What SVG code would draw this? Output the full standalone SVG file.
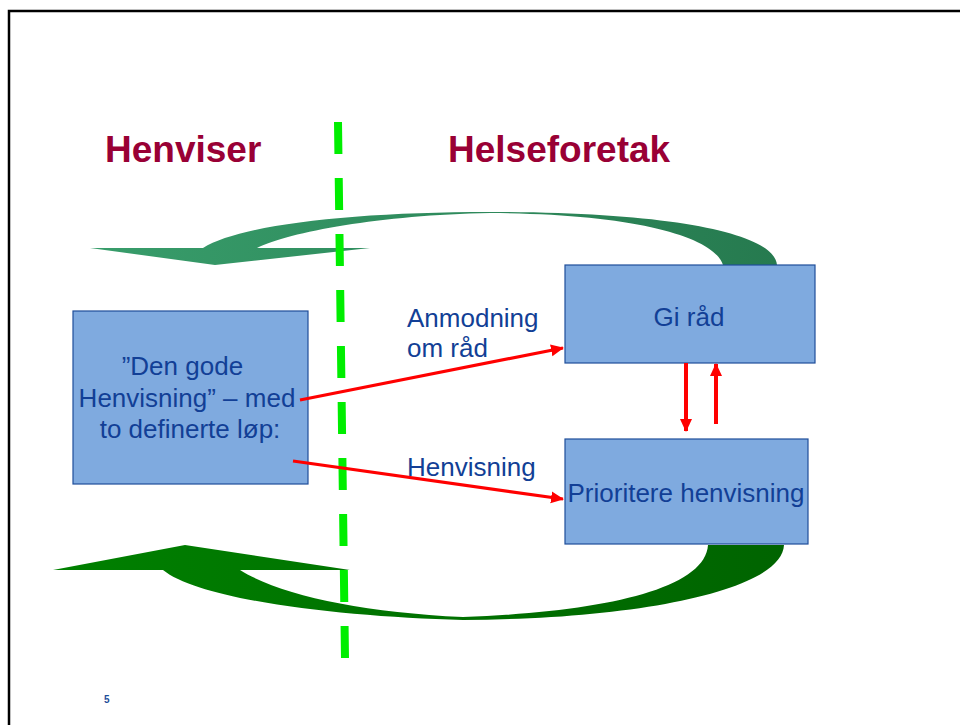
<svg xmlns="http://www.w3.org/2000/svg" width="960" height="725" viewBox="0 0 960 725">
<style>
.box{fill:#7faadf;stroke:#1f4e9a;stroke-width:1.2}
.lbl{font-family:"Liberation Sans",Arial,sans-serif;font-size:26px;fill:#123f96}
.head{font-family:"Liberation Sans",Arial,sans-serif;font-size:37px;font-weight:bold;fill:#990035}
.red{stroke:#ff0000;stroke-width:3.2;fill:none}
.redv{stroke:#ff0000;stroke-width:4;fill:none}
</style>
<defs>
<linearGradient id="gTop" x1="90" y1="0" x2="777" y2="0" gradientUnits="userSpaceOnUse">
<stop offset="0" stop-color="#389d6b"/><stop offset="1" stop-color="#267a4f"/>
</linearGradient>
<linearGradient id="gBot" x1="53" y1="0" x2="784" y2="0" gradientUnits="userSpaceOnUse">
<stop offset="0" stop-color="#008000"/><stop offset="1" stop-color="#006400"/>
</linearGradient>
<marker id="ah" markerUnits="userSpaceOnUse" markerWidth="14" markerHeight="14" viewBox="0 0 14 14" refX="12" refY="7" orient="auto">
<path d="M0,1 L13,7 L0,13 Z" fill="#ff0000"/>
</marker>
<marker id="ahv" markerUnits="userSpaceOnUse" markerWidth="14" markerHeight="14" viewBox="0 0 14 14" refX="12" refY="7" orient="auto">
<path d="M0,1 L13,7 L0,13 Z" fill="#ff0000"/>
</marker>
</defs>
<rect width="960" height="725" fill="#ffffff"/>
<path d="M9,725 L9,11 L962,11" fill="none" stroke="#000" stroke-width="2.5"/>

<text class="head" x="105" y="162">Henviser</text>
<text class="head" x="448" y="162">Helseforetak</text>

<g id="arrows-green">
<path d="M777,265 C775,235 680,212 490,212 C350,212 240,225 203,248 L90,248 L215,265 L370,248 L257,248 C290,232 380,215 490,213 C640,214 715,238 723,265 Z" fill="url(#gTop)"/>
<path d="M784,545 C782,590 640,619 463,620 C340,617 200,600 163,570 L53,570 L185,545 L350,570 L240,570 C280,595 360,612 463,617 C600,612 705,590 708,545 Z" fill="url(#gBot)"/>
</g>

<line x1="338" y1="122" x2="345" y2="658" stroke="#00ee00" stroke-width="8" stroke-dasharray="32 24"/>

<g id="node-henvisning">
<rect class="box" x="73" y="311" width="235" height="173"/>
<text class="lbl" text-anchor="middle"><tspan x="186" y="375">”Den gode </tspan><tspan x="187" y="407">Henvisning” – med</tspan><tspan x="190" y="438">to definerte løp:</tspan></text>
</g>
<g id="node-gi-rad">
<rect class="box" x="565" y="265" width="250" height="98"/>
<text class="lbl" x="689" y="326" text-anchor="middle">Gi råd</text>
</g>
<g id="node-prioritere">
<rect class="box" x="565" y="439" width="243" height="105"/>
<text class="lbl" x="686" y="502" text-anchor="middle">Prioritere henvisning</text>
</g>

<g id="connectors">
<line class="red" x1="300" y1="400" x2="563" y2="348" marker-end="url(#ah)"/>
<line class="red" x1="293" y1="461" x2="563" y2="499" marker-end="url(#ah)"/>
<line class="redv" x1="686" y1="363" x2="686" y2="431" marker-end="url(#ahv)"/>
<line class="redv" x1="716" y1="424" x2="716" y2="364" marker-end="url(#ahv)"/>
</g>
<text class="lbl" x="407" y="327">Anmodning</text>
<text class="lbl" x="407" y="357">om råd</text>
<text class="lbl" x="407" y="476">Henvisning</text>

<text x="104" y="703" font-family="Liberation Sans,Arial,sans-serif" font-size="10" font-weight="bold" fill="#1f4e9a">5</text>
</svg>
